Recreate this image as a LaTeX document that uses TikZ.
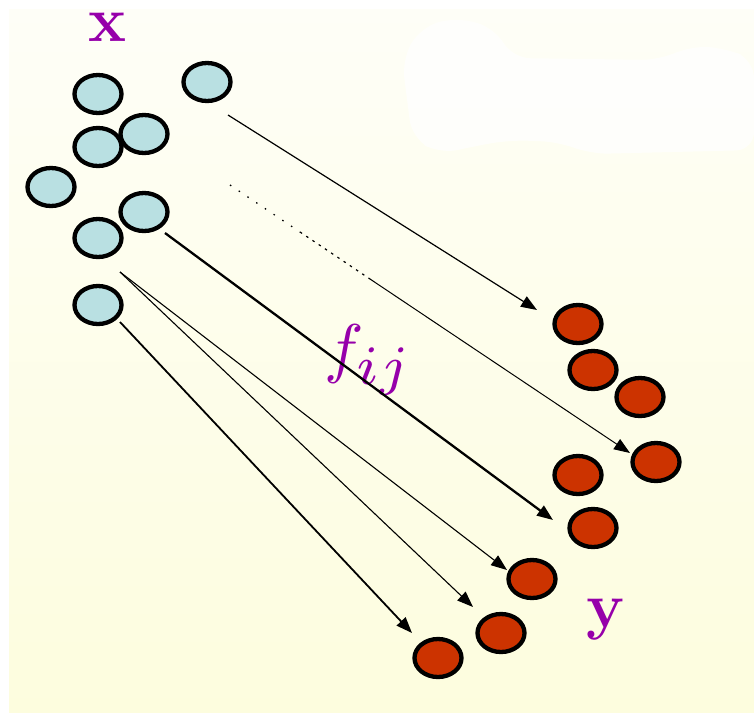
\documentclass[tikz,border=0pt]{standalone}
\usetikzlibrary{shapes.geometric,arrows.meta}
\definecolor{dotblue}{RGB}{185,224,226}
\definecolor{dotred}{RGB}{204,51,0}
\definecolor{labpurple}{RGB}{150,0,170}
\definecolor{bgtop}{RGB}{254,254,247}
\definecolor{bgbot}{RGB}{253,253,222}
\tikzset{
  xdot/.style={ellipse, draw=black, line width=4.3pt, fill=dotblue, minimum width=47pt, minimum height=38pt, inner sep=0pt},
  ydot/.style={ellipse, draw=black, line width=4.3pt, fill=dotred, minimum width=47pt, minimum height=38pt, inner sep=0pt},
  lab/.style={text=labpurple, inner sep=0pt, font=\fontsize{64}{64}\selectfont\bfseries},
  maparrow/.style={draw=black, line width=1.2pt, -{Triangle[length=16pt,width=12pt]}},
}
\begin{document}
\begin{tikzpicture}[x=1pt,y=-1pt]
\useasboundingbox (0,0) rectangle (754,713);
\fill[white] (0,0) rectangle (754,713);
\shade[top color=bgtop, bottom color=bgbot] (9,9) rectangle (754,712);
% faint white blob at top right
\fill[white, opacity=0.75, rounded corners=18pt] (402,60) -- (420,28) -- (455,17) -- (495,28) -- (512,58) -- (660,60) -- (690,46) -- (725,48) -- (754,60) -- (754,150) -- (590,154) -- (560,142) -- (510,140) -- (475,146) -- (440,154) -- (412,138) -- cycle;

% domain points
\node[xdot] (x1) at (98,94) {};
\node[xdot] (x2) at (207,82) {};
\node[xdot] (x3) at (98,147) {};
\node[xdot] (x4) at (144,134) {};
\node[xdot] (x5) at (51,187) {};
\node[xdot] (x6) at (144,212) {};
\node[xdot] (x7) at (98,238) {};
\node[xdot] (x8) at (98,305) {};

% range points
\node[ydot] (y1) at (578,324) {};
\node[ydot] (y2) at (593,370) {};
\node[ydot] (y3) at (640,397) {};
\node[ydot] (y4) at (656,462) {};
\node[ydot] (y5) at (578,475) {};
\node[ydot] (y6) at (593,528) {};
\node[ydot] (y7) at (532,579) {};
\node[ydot] (y8) at (501,633) {};
\node[ydot] (y9) at (438,658) {};

% labels
\node[lab] (lx) at (108,27) {x};
\node[lab] (ly) at (605,620) {y};
\node[text=labpurple, inner sep=0pt] (lf) at (368,360) {\scalebox{6.6}{$f_{\scalebox{1.2}{$\scriptstyle ij$}}$}};

% connector end points
\coordinate (a0) at (228,115);  \coordinate (a1) at (537,310);
\coordinate (b0) at (230,185);  \coordinate (bm) at (300,232); \coordinate (bn) at (370,279); \coordinate (b1) at (630,453);
\coordinate (c0) at (165,233);  \coordinate (c1) at (553,520);
\coordinate (d0) at (120,272);  \coordinate (d1) at (507,570); \coordinate (d2) at (473,607);
\coordinate (e0) at (120,322);  \coordinate (e1) at (412,633);

\draw[maparrow] (a0) -- (a1);
\draw[line width=1.3pt, dash pattern=on 1.5pt off 9pt] (b0) -- (bm);
\draw[line width=1.2pt, dash pattern=on 2.5pt off 5pt] (bm) -- (bn);
\draw[maparrow, line width=1pt] (bn) -- (b1);
\draw[maparrow, line width=2.3pt] (c0) -- (c1);
\draw[maparrow, line width=1.1pt] (d0) -- (d1);
\draw[maparrow, line width=1.1pt] (d0) -- (d2);
\draw[maparrow, line width=1.8pt] (e0) -- (e1);
\end{tikzpicture}
\end{document}
